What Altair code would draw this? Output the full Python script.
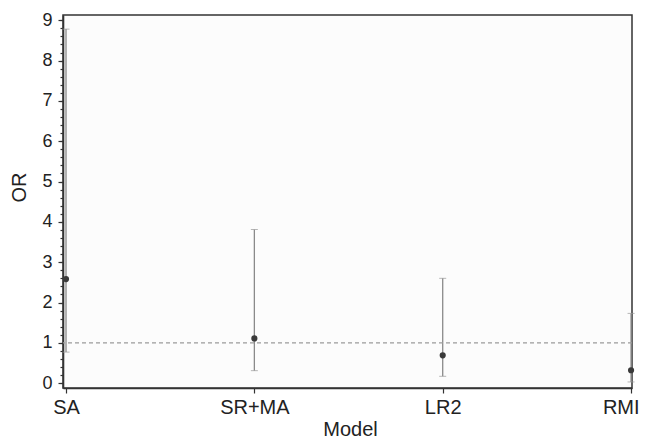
import altair as alt
import pandas as pd

models = ["SA", "SR+MA", "LR2", "RMI"]
idx = [0, 1, 2, 3]
or_vals = [2.58, 1.11, 0.69, 0.32]
lower = [0.77, 0.31, 0.17, 0.03]
upper = [8.78, 3.81, 2.60, 1.73]

major_ticks = list(range(0, 10))
minor_ticks = [round(i * 0.2, 1) for i in range(0, 46)]

df = pd.DataFrame({"idx": idx, "model": models, "OR": or_vals, "lo": lower, "hi": upper})
ref = pd.DataFrame({"y": [1.0]})

FONT = "Liberation Sans"
xdom = [-0.016, 3.005]
ydom = [-0.12, 9.13]

label_expr = "datum.value == 0 ? 'SA' : datum.value == 1 ? 'SR+MA' : datum.value == 2 ? 'LR2' : datum.value == 3 ? 'RMI' : ''"

xaxis = alt.Axis(values=idx, labelExpr=label_expr, title="Model",
                 tickSize=5, labelPadding=4, grid=False,
                 labelFlush=2, labelFlushOffset=8,
                 domainColor="#333", domainWidth=1.6, tickColor="#333", tickWidth=1.2,
                 labelFont=FONT, labelFontSize=20, labelColor="#222",
                 titleFont=FONT, titleFontSize=20, titleFontWeight="normal", titleColor="#222",
                 titleX=287, titleY=41, titleBaseline="middle")
xscale = alt.Scale(domain=xdom, nice=False, zero=False)


def xenc():
    return alt.X("idx:Q", scale=xscale, axis=xaxis)


yscale = alt.Scale(domain=ydom, nice=False, zero=False)

bars = alt.Chart(df).mark_rule(color="#8a8a8a", strokeWidth=1.3).encode(
    x=xenc(),
    y=alt.Y("lo:Q", scale=yscale,
            axis=alt.Axis(values=major_ticks, title="OR", tickSize=5, labelPadding=6, grid=False,
                          domainColor="#333", domainWidth=1.6, tickColor="#333", tickWidth=1.2,
                          labelFont=FONT, labelFontSize=18, labelColor="#222",
                          titleFont=FONT, titleFontSize=20, titleFontWeight="normal", titleColor="#222",
                          titleX=-44, titleY=172, titleBaseline="middle", titleAngle=-90)),
    y2="hi:Q",
)

minor = alt.Chart(pd.DataFrame({"v": minor_ticks})).mark_rule(opacity=0).encode(
    y=alt.Y("v:Q", scale=yscale,
            axis=alt.Axis(values=minor_ticks, labels=False, title=None, tickSize=3, grid=False,
                          domain=False, tickColor="#333", tickWidth=1.2, orient="left")),
)

cap_lo = alt.Chart(df).mark_tick(color="#999", thickness=1, size=7, orient="horizontal").encode(
    x=xenc(),
    y=alt.Y("lo:Q", scale=yscale, axis=None),
)
cap_hi = alt.Chart(df).mark_tick(color="#999", thickness=1, size=7, orient="horizontal").encode(
    x=xenc(),
    y=alt.Y("hi:Q", scale=yscale, axis=None),
)

refline = alt.Chart(ref).mark_rule(color="#9a9a9a", strokeDash=[4, 3], strokeWidth=1.2).encode(
    y=alt.Y("y:Q", scale=yscale, axis=None),
)

pts = alt.Chart(df).mark_point(filled=True, color="#3a3a3a", size=38, opacity=1).encode(
    x=xenc(),
    y=alt.Y("OR:Q", scale=yscale, axis=None),
)

chart = alt.layer(bars, minor, refline, cap_lo, cap_hi, pts).resolve_axis(y="independent").properties(
    width=569, height=373,
    autosize=alt.AutoSizeParams(type="none"),
    padding={"left": 55, "top": 7, "right": 9, "bottom": 52},
    background="white",
).configure_view(fill="#fcfcfc", stroke="#333", strokeWidth=1.5)

chart.save("out.html", embed_options={"renderer": "svg", "actions": False})
